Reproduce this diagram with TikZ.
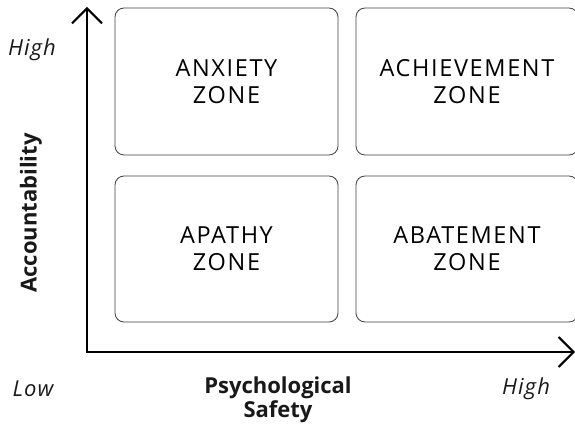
\documentclass[tikz,border=0pt]{standalone}
\usepackage{fontspec}
\setmainfont{Open Sans}
\usetikzlibrary{arrows.meta}
\begin{document}
\begin{tikzpicture}[x=1pt,y=1pt,
  zonebox/.style={draw=black!75, line width=0.8pt, rounded corners=9pt, inner sep=0pt},
  zonetext/.style={font=\fontsize{23.5}{27}\selectfont\addfontfeature{LetterSpace=7}, align=center, text=black},
  axislabel/.style={font=\fontsize{22}{25}\selectfont\itshape\addfontfeature{LetterSpace=5}, text=black!90},
  axistitle/.style={font=\fontsize{22}{24}\selectfont\bfseries, align=center, text=black!90},
  axisline/.style={line width=2.4pt, -{Straight Barb[length=15pt,width=30pt,line width=2pt]}}]
\clip (0,0) rectangle (575,431);
\fill[white] (0,0) rectangle (575,431);
% boxes
\node[zonebox, minimum width=223pt, minimum height=147pt] (tl) at (226.5,349.5) {};
\node[zonebox, minimum width=222pt, minimum height=147pt] (tr) at (467,349.5) {};
\node[zonebox, minimum width=223pt, minimum height=146pt] (bl) at (226.5,182) {};
\node[zonebox, minimum width=222pt, minimum height=146pt] (br) at (467,182) {};
\node[zonetext] (tlt) at (tl) {ANXIETY\\ZONE};
\node[zonetext] (trt) at (tr) {ACHIEVEMENT\\ZONE};
\node[zonetext] (blt) at (bl) {APATHY\\ZONE};
\node[zonetext] (brt) at (br) {ABATEMENT\\ZONE};
% axes
\coordinate (origin) at (87,79);
\coordinate (ytip) at (87,424);
\coordinate (xtip) at (575,79);
\draw[axisline] (origin) -- (ytip);
\draw[axisline] ([xshift=-1.2pt]origin) -- (xtip);
% labels
\node[axislabel] (yhigh) at (32,381) {High};
\node[axistitle, rotate=90] (ytitle) at (31,218) {Accountability};
\node[axislabel] (xlow) at (33,42) {Low};
\node[axistitle] (xtitle) at (278,31) {Psychological\\Safety};
\node[axislabel] (xhigh) at (526,42) {High};
\end{tikzpicture}
\end{document}
